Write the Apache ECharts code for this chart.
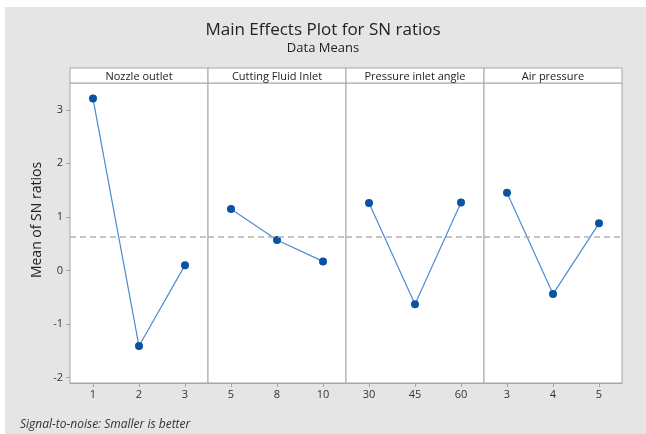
<!DOCTYPE html>
<html>
<head>
<meta charset="utf-8">
<script src="https://cdn.jsdelivr.net/npm/echarts@6.0.0/dist/echarts.min.js"></script>
<style>
  html, body { margin: 0; padding: 0; background: #ffffff; }
  #chart { width: 646px; height: 434px; }
</style>
</head>
<body>
<div id="chart"></div>
<script>
// factor names and their levels
const factors = ["Nozzle outlet", "Cutting Fluid Inlet", "Pressure inlet angle", "Air pressure"];
const levels = [
  ["1", "2", "3"],
  ["5", "8", "10"],
  ["30", "45", "60"],
  ["3", "4", "5"]
];
// mean SN ratio at each level
const snMeans = [
  [3.21, -1.41, 0.10],
  [1.15, 0.57, 0.17],
  [1.26, -0.63, 1.27],
  [1.45, -0.44, 0.88]
];
const yTicks = [-2, -1, 0, 1, 2, 3];

const FONT = "'Open Sans', 'Noto Sans', sans-serif";
const PANEL_LEFT = 70;
const PANEL_W = 138;
const HEADER_TOP = 68;
const PLOT_TOP = 83;
const PLOT_BOTTOM = 383;
const FRAME = "#a6a6a6";

const allValues = snMeans.flat();
const grandMean = allValues.reduce((a, b) => a + b, 0) / allValues.length;

const chart = echarts.init(document.getElementById("chart"));

const grids = factors.map((_, i) => ({
  left: PANEL_LEFT + PANEL_W * i,
  top: PLOT_TOP,
  width: PANEL_W,
  height: PLOT_BOTTOM - PLOT_TOP,
  show: true,
  backgroundColor: "#ffffff",
  borderColor: FRAME,
  borderWidth: 1
}));

const xAxes = factors.map((_, i) => ({
  type: "category",
  gridIndex: i,
  data: levels[i],
  boundaryGap: true,
  axisLine: { show: true, onZero: false, lineStyle: { color: FRAME } },
  axisTick: { show: true, alignWithLabel: true, length: 4, lineStyle: { color: FRAME } },
  axisLabel: { color: "#333", fontSize: 11, fontFamily: FONT, margin: 6 },
  splitLine: { show: false }
}));

const yAxes = factors.map((_, i) => ({
  type: "value",
  gridIndex: i,
  min: -2.1,
  max: 3.5,
  axisLine: { show: false },
  axisTick: { show: i === 0, length: 4, lineStyle: { color: FRAME }, customValues: yTicks },
  axisLabel: { show: i === 0, color: "#333", fontSize: 11, fontFamily: FONT, margin: 7, customValues: yTicks },
  splitLine: { show: false }
}));

const series = factors.map((name, i) => ({
  name,
  type: "line",
  xAxisIndex: i,
  yAxisIndex: i,
  data: snMeans[i],
  symbol: "circle",
  symbolSize: 8,
  itemStyle: { color: "#0b52a3" },
  lineStyle: { color: "#4d8bd2", width: 1.2 },
  markLine: {
    silent: true,
    symbol: "none",
    label: { show: false },
    lineStyle: { color: "#b3b3b3", type: [6, 4], width: 1.5 },
    data: [{ yAxis: grandMean }]
  },
  z: 3
}));

const headers = [];
factors.forEach((name, i) => {
  headers.push({
    type: "rect",
    shape: { x: PANEL_LEFT + PANEL_W * i, y: HEADER_TOP, width: PANEL_W, height: PLOT_TOP - HEADER_TOP },
    style: { fill: "#ffffff", stroke: FRAME, lineWidth: 1 },
    z: 1
  });
  headers.push({
    type: "text",
    x: PANEL_LEFT + PANEL_W * i + PANEL_W / 2,
    y: (HEADER_TOP + PLOT_TOP) / 2 + 1,
    style: {
      text: name,
      fill: "#222",
      font: "11px " + FONT,
      textAlign: "center",
      textVerticalAlign: "middle"
    },
    z: 2
  });
});

chart.setOption({
  animation: false,
  backgroundColor: "#ffffff",
  title: {
    text: "Main Effects Plot for SN ratios",
    subtext: "Data Means",
    left: "center",
    top: 17,
    itemGap: 3,
    textStyle: { color: "#222", fontSize: 17, fontWeight: "normal", fontFamily: FONT },
    subtextStyle: { color: "#222", fontSize: 13, fontFamily: FONT }
  },
  grid: grids,
  xAxis: xAxes,
  yAxis: yAxes,
  series,
  graphic: [
    {
      type: "rect",
      shape: { x: 5, y: 7, width: 641, height: 427 },
      style: { fill: "#e5e5e5" },
      z: -10,
      silent: true
    },
    ...headers,
    {
      type: "text",
      x: 37,
      y: 220,
      rotation: Math.PI / 2,
      style: {
        text: "Mean of SN ratios",
        fill: "#222",
        font: "14px " + FONT,
        textAlign: "center",
        textVerticalAlign: "middle"
      }
    },
    {
      type: "text",
      x: 20,
      y: 425,
      style: {
        text: "Signal-to-noise: Smaller is better",
        fill: "#333",
        font: "italic 12px " + FONT,
        textAlign: "left",
        textVerticalAlign: "middle"
      }
    }
  ]
});
</script>
</body>
</html>
